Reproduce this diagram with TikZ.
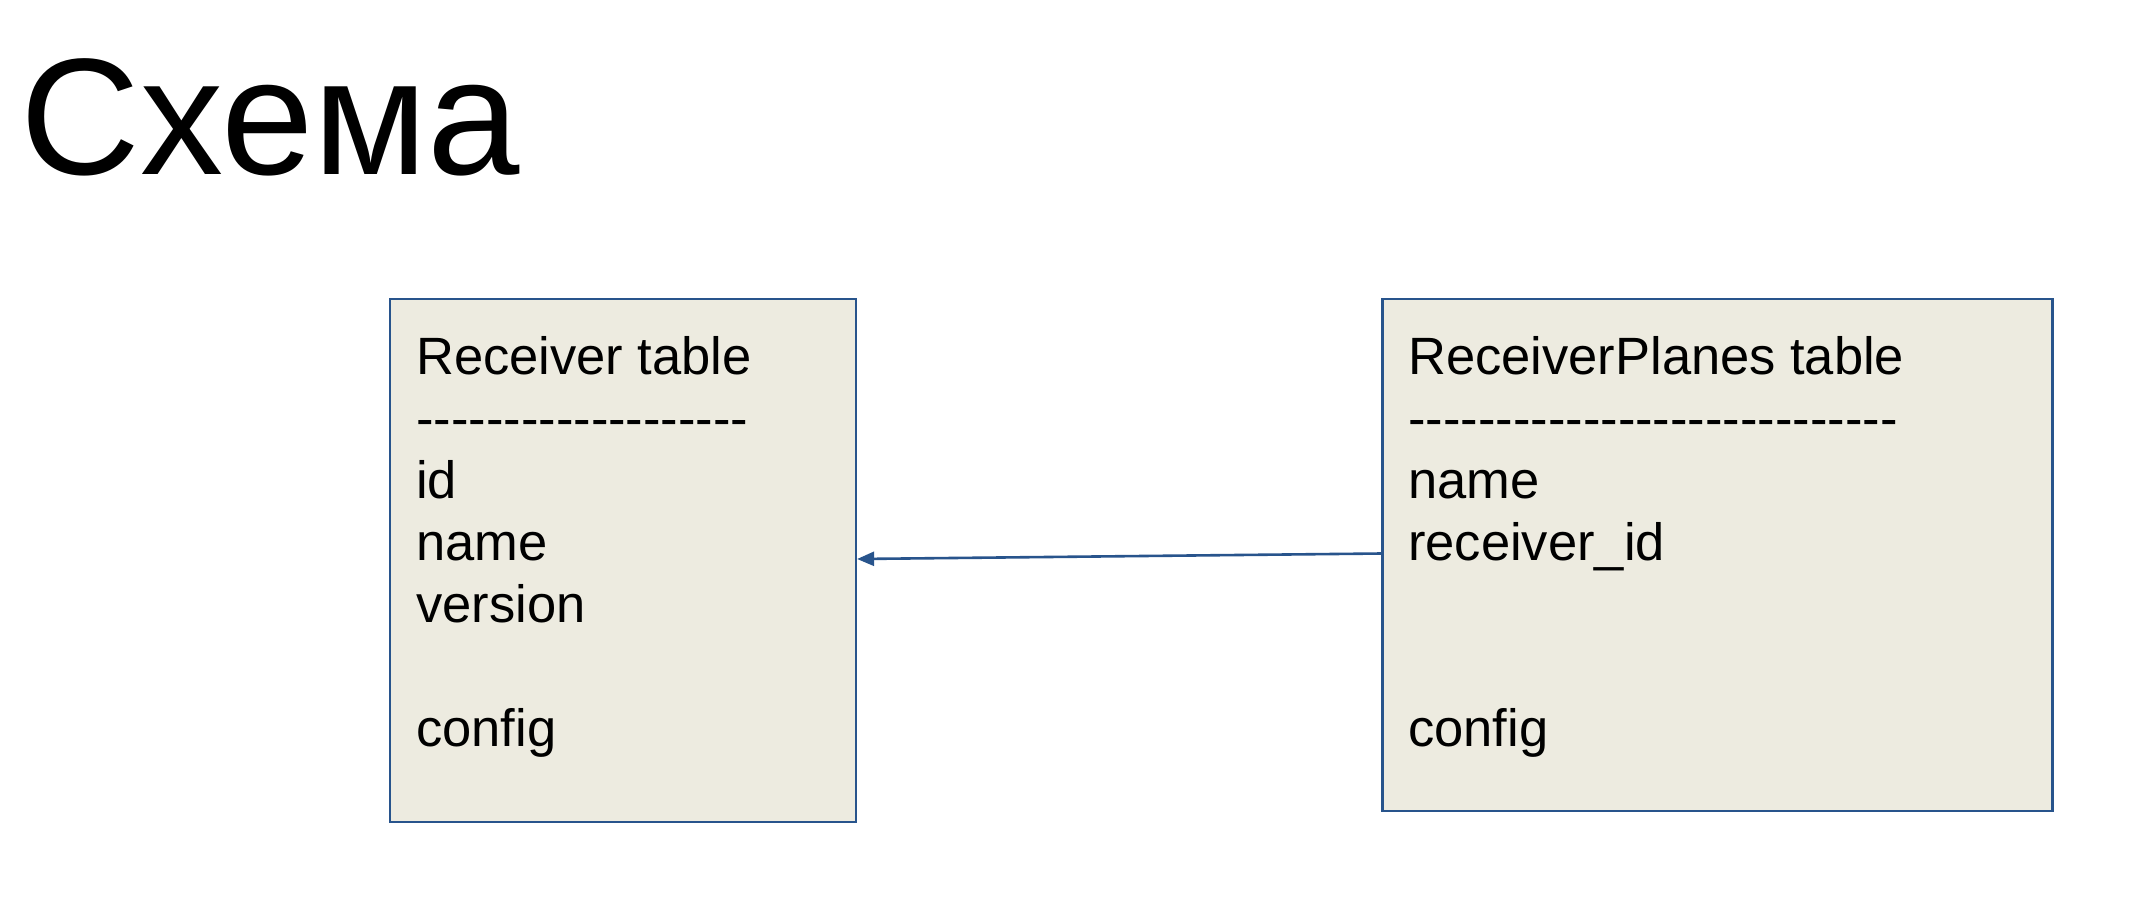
\documentclass[tikz,border=0pt]{standalone}
\usepackage{fontspec}
\setmainfont{Liberation Sans}
\usetikzlibrary{arrows.meta}
\definecolor{boxfill}{RGB}{237,235,224}
\definecolor{boxline}{RGB}{40,84,140}
\newcommand{\dashrow}[1]{\foreach \i in {1,...,#1}{-}}
\begin{document}
\begin{tikzpicture}[x=1pt,y=-1pt,
  tablebox/.style={draw=boxline, fill=boxfill, line width=2.6pt, inner sep=0pt, anchor=north west},
  fieldtext/.style={anchor=base west, inner sep=0pt, font=\fontsize{52.5}{62}\selectfont},
  titletext/.style={anchor=base west, inner sep=0pt, font=\fontsize{166}{200}\selectfont},
  fk/.style={draw=boxline, line width=2.6pt, -{Triangle[length=17pt,width=14pt]}}]
\fill[white] (0,0) rectangle (2149,916);
\useasboundingbox (0,0) rectangle (2149,916);
\node[titletext] (title) at (20,174) {Схема};
% Receiver table
\node[tablebox, minimum width=466pt, minimum height=523pt] (rbox) at (388.5,297.5) {};
\node[fieldtext] (r0) at (416,374) {Receiver table};
\node[fieldtext] (r1) at (416,436) {\dashrow{19}};
\node[fieldtext] (r2) at (416,498) {id};
\node[fieldtext] (r3) at (416,560) {name};
\node[fieldtext] (r4) at (416,622) {version};
\node[fieldtext] (r5) at (416,746) {config};
% ReceiverPlanes table
\node[tablebox, minimum width=670pt, minimum height=512pt] (pbox) at (1381,297.5) {};
\node[fieldtext] (p0) at (1408,374) {ReceiverPlanes table};
\node[fieldtext] (p1) at (1408,436) {\dashrow{28}};
\node[fieldtext] (p2) at (1408,498) {name};
\node[fieldtext] (p3) at (1408,560) {receiver\_id};
\node[fieldtext] (p4) at (1408,746) {config};
% connector
\coordinate (fkstart) at (pbox.west |- 0,553.5);
\coordinate (fkend) at (rbox.east |- 0,559);
\draw[fk] (fkstart) -- (fkend);
\end{tikzpicture}
\end{document}
